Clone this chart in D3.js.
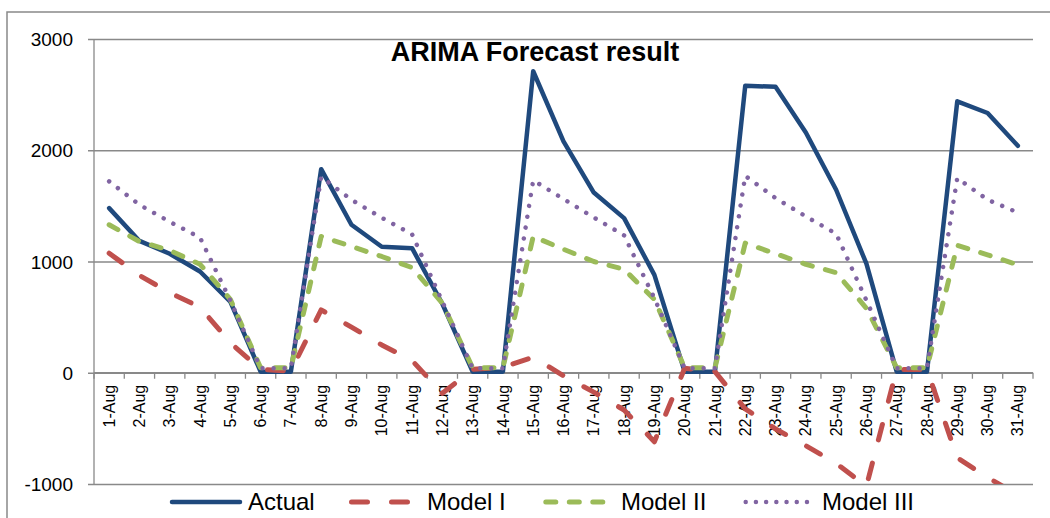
<!DOCTYPE html>
<html>
<head>
<meta charset="utf-8">
<script src="https://cdn.jsdelivr.net/npm/d3@7"></script>
<style>
  html, body { margin: 0; padding: 0; background: #ffffff; }
  svg { display: block; font-family: "Liberation Sans", Arial, sans-serif; }
</style>
</head>
<body>
<svg id="chart" width="1050" height="518"></svg>
<script>
// Daily categories for August
const categories = [
  "1-Aug","2-Aug","3-Aug","4-Aug","5-Aug","6-Aug","7-Aug","8-Aug","9-Aug","10-Aug",
  "11-Aug","12-Aug","13-Aug","14-Aug","15-Aug","16-Aug","17-Aug","18-Aug","19-Aug","20-Aug",
  "21-Aug","22-Aug","23-Aug","24-Aug","25-Aug","26-Aug","27-Aug","28-Aug","29-Aug","30-Aug","31-Aug"
];

// Observed values and the three ARIMA model forecasts
const actual = [1480,1185,1070,910,640,10,10,1830,1330,1133,1120,620,10,10,2710,2080,1620,1390,880,10,10,2580,2570,2160,1645,980,10,10,2440,2335,2040];
const modelI = [1075,875,720,590,270,30,15,565,410,250,110,-185,30,50,140,-27,-174,-335,-620,40,10,-325,-505,-656,-815,-1020,30,30,-765,-940,-1100];
const modelII = [1330,1180,1100,975,660,45,45,1225,1135,1045,945,625,45,45,1225,1110,1000,930,660,45,45,1165,1070,975,900,580,45,45,1145,1060,970];
const modelIII = [1720,1510,1357,1215,650,40,40,1760,1555,1393,1245,640,40,40,1730,1562,1396,1235,670,40,40,1770,1570,1405,1250,650,40,40,1750,1555,1440];

const yTicks = [-1000, 0, 1000, 2000, 3000];
const seriesNames = ["Actual", "Model I", "Model II", "Model III"];

const series = [
  { name: seriesNames[0], values: actual,   color: "#1F497D", width: 4.5, dash: null,        legendDash: null },
  { name: seriesNames[1], values: modelI,   color: "#C0504D", width: 5,   dash: "16,24",     legendDash: "16,24" },
  { name: seriesNames[2], values: modelII,  color: "#9BBB59", width: 5,   dash: "10,13.5",   legendDash: "10,13.5" },
  { name: seriesNames[3], values: modelIII, color: "#8064A2", width: 4.5, dash: "0.01,11",   legendDash: "0.01,10.2" }
];

const svg = d3.select("#chart");
const plot = { left: 94, right: 1033, top: 39, bottom: 484 };
const gridColor = "#898989";

// Chart frame
svg.append("rect")
  .attr("x", 7).attr("y", 12)
  .attr("width", 1100).attr("height", 600)
  .attr("fill", "#ffffff")
  .attr("stroke", gridColor)
  .attr("stroke-width", 1.5);

const x = d3.scaleBand().domain(categories).range([plot.left, plot.right]).padding(0);
const y = d3.scaleLinear().domain([-1000, 3000]).range([plot.bottom, plot.top]);
const cx = d => x(d) + x.bandwidth() / 2;

// Horizontal gridlines with left tick marks and value labels
const yAxis = d3.axisLeft(y)
  .tickValues(yTicks)
  .tickSize(-(plot.right - plot.left))
  .tickSizeOuter(0)
  .tickFormat(d => String(d));

const yg = svg.append("g")
  .attr("transform", `translate(${plot.left},0)`)
  .call(yAxis);
yg.select(".domain").remove();
yg.selectAll(".tick line")
  .attr("x1", -6)
  .attr("stroke", gridColor)
  .attr("stroke-width", 1.3);
yg.selectAll(".tick text")
  .attr("x", -21)
  .attr("dy", "0.35em")
  .attr("fill", "#000")
  .style("font-size", "19px")
  .style("font-family", "'Liberation Sans', Arial, sans-serif");

// Vertical value axis line
svg.append("line")
  .attr("x1", plot.left).attr("x2", plot.left)
  .attr("y1", plot.top).attr("y2", plot.bottom)
  .attr("stroke", gridColor).attr("stroke-width", 1.3);

// Category axis along zero, ticks at band boundaries
const boundaries = categories.map(c => x(c)).concat([plot.right]);
svg.append("g").selectAll("line")
  .data(boundaries)
  .join("line")
  .attr("x1", d => d).attr("x2", d => d)
  .attr("y1", y(0)).attr("y2", y(0) + 6)
  .attr("stroke", gridColor).attr("stroke-width", 1.3);

svg.append("line")
  .attr("x1", plot.left).attr("x2", plot.right)
  .attr("y1", y(0)).attr("y2", y(0))
  .attr("stroke", gridColor).attr("stroke-width", 1.3);

svg.append("g").selectAll("text")
  .data(categories)
  .join("text")
  .attr("transform", d => `translate(${cx(d)},${y(0) + 12}) rotate(-90)`)
  .attr("text-anchor", "end")
  .attr("dy", "0.35em")
  .style("font-size", "16px")
  .attr("fill", "#000")
  .text(d => d);

// Series lines, clipped to the plot area
svg.append("defs").append("clipPath").attr("id", "plot-clip")
  .append("rect")
  .attr("x", plot.left).attr("y", plot.top)
  .attr("width", plot.right - plot.left).attr("height", plot.bottom - plot.top);

const line = d3.line()
  .x((d, i) => cx(categories[i]))
  .y(d => y(d));

const lines = svg.append("g").attr("clip-path", "url(#plot-clip)");
lines.selectAll("path")
  .data(series)
  .join("path")
  .attr("d", s => line(s.values))
  .attr("fill", "none")
  .attr("stroke", s => s.color)
  .attr("stroke-width", s => s.width)
  .attr("stroke-linejoin", "round")
  .attr("stroke-linecap", "round")
  .attr("stroke-dasharray", s => s.dash);

// Title
svg.append("text")
  .attr("x", 535).attr("y", 61)
  .attr("text-anchor", "middle")
  .style("font-size", "27px")
  .style("font-weight", "bold")
  .attr("fill", "#000")
  .text("ARIMA Forecast result");

// Legend
const legendItems = [
  { s: series[0], x0: 172,   x1: 240,   tx: 248 },
  { s: series[1], x0: 351.5, x1: 411,   tx: 427 },
  { s: series[2], x0: 545.8, x1: 605,   tx: 621 },
  { s: series[3], x0: 745.7, x1: 807,   tx: 822 }
];
const lg = svg.append("g");
const li = lg.selectAll("g").data(legendItems).join("g");
li.append("line")
  .attr("x1", d => d.x0).attr("x2", d => d.x1)
  .attr("y1", 502).attr("y2", 502)
  .attr("stroke", d => d.s.color)
  .attr("stroke-width", d => d.s.width)
  .attr("stroke-linecap", "round")
  .attr("stroke-dasharray", d => d.s.legendDash);
li.append("text")
  .attr("x", d => d.tx).attr("y", 509.5)
  .style("font-size", "24px")
  .attr("fill", "#000")
  .text(d => d.s.name);
</script>
</body>
</html>
